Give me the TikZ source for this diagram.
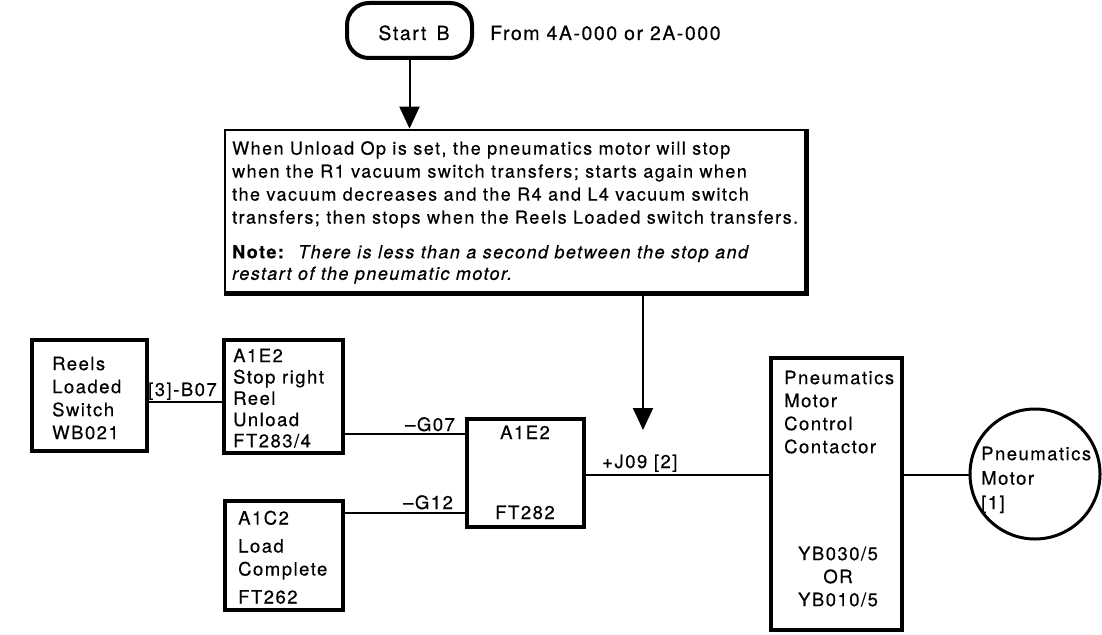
\documentclass[tikz,border=0pt]{standalone}
\usepackage{fontspec}
\setmainfont{TeX Gyre Heros}[LetterSpace=8, FakeBold=0.4]
\usetikzlibrary{arrows.meta}
\begin{document}
\begin{tikzpicture}[x=1pt,y=-1pt,
  box/.style={draw, line width=3.4pt, inner sep=0pt},
  wire/.style={line width=2pt},
  arrowline/.style={wire, -{Triangle[length=22pt,width=20pt]}},
  txt/.style={inner sep=0pt, font=\fontsize{18.5}{23}\selectfont, align=left, anchor=north west},
  lbl/.style={inner sep=0pt, font=\fontsize{18.5}{23}\selectfont, anchor=base west},
  clbl/.style={inner sep=0pt, font=\fontsize{18.5}{23}\selectfont, anchor=base},
]
\useasboundingbox (0,0) rectangle (1102,634);

% boxes
\node[box, rounded corners=22pt, line width=4pt, minimum width=125pt, minimum height=55pt] (start) at (409.5,30.5) {};
\node[box, line width=2.8pt, minimum width=580pt, minimum height=162pt] (tb) at (515,211) {};
\node[box, minimum width=115pt, minimum height=111pt] (reels) at (89.5,395.5) {};
\node[box, minimum width=119pt, minimum height=113pt] (stop) at (283.5,396.5) {};
\node[box, minimum width=117pt, minimum height=108pt] (ae) at (525.5,473) {};
\node[box, minimum width=118pt, minimum height=109pt] (ac) at (284,555.5) {};
\node[box, minimum width=131pt, minimum height=272pt] (cont) at (836.5,494) {};
\node[box, circle, line width=3pt, minimum size=130pt] (motor) at (1035,474) {};
\draw[line width=4.5pt] (tb.north east) -- (tb.south east) -- (tb.south west);

% texts
\node[clbl, font=\fontsize{19.5}{23}\selectfont] (startt) at (414,40) {Start\ \,B};
\node[lbl, font=\fontsize{19.5}{23}\selectfont] (from) at (490,40) {From 4A-000 or 2A-000};
\node[txt, font=\fontsize{18}{23}\selectfont] (para) at (232,141) {When Unload Op is set, the pneumatics motor will stop\\
when the R1 vacuum switch transfers; starts again when\\
the vacuum decreases and the R4 and L4 vacuum switch\\
transfers; then stops when the Reels Loaded switch transfers.};
\node[txt, font=\fontsize{18}{21.5}\selectfont] (note) at (232,245) {\textbf{Note:}\ \ \textit{There is less than a second between the stop and}\\
\textit{restart of the pneumatic motor.}};
\node[txt] (reelst) at (52,356.5) {Reels\\Loaded\\Switch\\WB021};
\node[txt, font=\fontsize{18.5}{21.3}\selectfont] (stopt) at (233,348.5) {A1E2\\Stop right\\Reel\\Unload\\FT283/4};
\node[txt] (act) at (238,510.5) {A1C2\\[5pt]Load\\Complete\\[5pt]FT262};
\node[txt] (contt) at (784,370.5) {Pneumatics\\Motor\\Control\\Contactor};
\node[txt, align=center, anchor=north] (contb) at (838,546.5) {YB030/5\\OR\\YB010/5};
\node[txt, font=\fontsize{18.5}{24.5}\selectfont] (motort) at (981,446.5) {Pneumatics\\Motor\\{[1]}};
\node[clbl] (aet) at (525,439) {A1E2};
\node[clbl] (aeb) at (525,519) {FT282};

% wire levels
\coordinate (yB) at (0,402);
\coordinate (yG7) at (0,434);
\coordinate (yG12) at (0,513);
\coordinate (yJ) at (0,475);
\coordinate (tip) at (643,430);

% connectors
\draw[arrowline] (start.south) -- (start.south |- tb.north);
\draw[arrowline] (tb.south -| tip) -- (tip);
\draw[wire] (reels.east |- yB) -- (stop.west |- yB);
\draw[wire] (stop.east |- yG7) -- (ae.west |- yG7);
\draw[wire] (ac.east |- yG12) -- (ae.west |- yG12);
\draw[wire] (ae.east |- yJ) -- (cont.west |- yJ);
\draw[wire] (cont.east |- yJ) -- (motor.west |- yJ);

% connector labels
\node[lbl] (lB) at (148,396) {[3]-B07};
\node[lbl] (lG7) at (405,431) {--G07};
\node[lbl] (lG12) at (403,509) {--G12};
\node[lbl] (lJ) at (602,468) {+J09 [2]};
\end{tikzpicture}
\end{document}
